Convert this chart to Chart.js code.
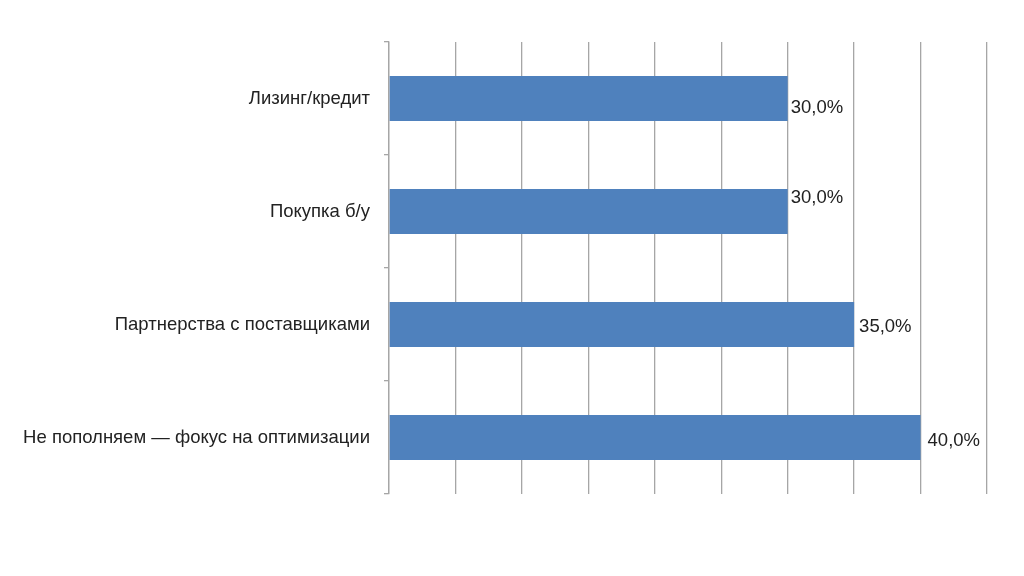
<!DOCTYPE html>
<html>
<head>
<meta charset="utf-8">
<script src="https://cdn.jsdelivr.net/npm/chart.js@4"></script>
<style>
html,body{margin:0;padding:0;background:#fff;}
#wrap{width:1024px;height:576px;position:relative;}
</style>
</head>
<body>
<div id="wrap"><canvas id="c" width="1024" height="576"></canvas></div>
<script>
const categories = ["Лизинг/кредит", "Покупка б/у", "Партнерства с поставщиками", "Не пополняем — фокус на оптимизации"];
const values = [30, 30, 35, 40];
const valueLabels = ["30,0%", "30,0%", "35,0%", "40,0%"];
const xMin = 0, xMax = 45, xStep = 5;

const FONT = "'Liberation Sans', Arial, sans-serif";
// small manual nudges of the value labels (as placed in the original)
const labelNudgeY = [8, -15, 1, 2];
const labelNudgeX = [3, 3, 5, 7];

const labelPlugin = {
  id: 'valLabels',
  afterDatasetsDraw(chart) {
    const ctx = chart.ctx;
    const meta = chart.getDatasetMeta(0);
    ctx.save();
    ctx.font = "18.5px " + FONT;
    ctx.fillStyle = "#222";
    ctx.textAlign = "left";
    ctx.textBaseline = "middle";
    meta.data.forEach((bar, i) => {
      ctx.fillText(valueLabels[i], bar.x + labelNudgeX[i], bar.y + 1 + labelNudgeY[i]);
    });
    ctx.restore();
  }
};

new Chart(document.getElementById('c'), {
  type: 'bar',
  data: {
    labels: categories,
    datasets: [{
      data: values,
      backgroundColor: '#4F81BD',
      borderWidth: 0,
      categoryPercentage: 0.8,
      barPercentage: 0.5
    }]
  },
  options: {
    indexAxis: 'y',
    responsive: false,
    animation: false,
    layout: { padding: { left: 0, right: 37, top: 42, bottom: 82 } },
    plugins: { legend: { display: false }, tooltip: { enabled: false } },
    scales: {
      x: {
        min: xMin, max: xMax,
        ticks: { display: false, stepSize: xStep },
        grid: { color: '#a6a6a6', lineWidth: 1.3, drawTicks: false },
        border: { display: false }
      },
      y: {
        afterFit(scale) { scale.width = 389; },
        ticks: { color: '#222', font: { family: FONT, size: 18.5 }, padding: 14 },
        grid: { drawOnChartArea: false, color: '#a6a6a6', tickLength: 5, offset: true, lineWidth: 1.3 },
        border: { color: '#a6a6a6', width: 1.3 }
      }
    }
  },
  plugins: [labelPlugin]
});
</script>
</body>
</html>
